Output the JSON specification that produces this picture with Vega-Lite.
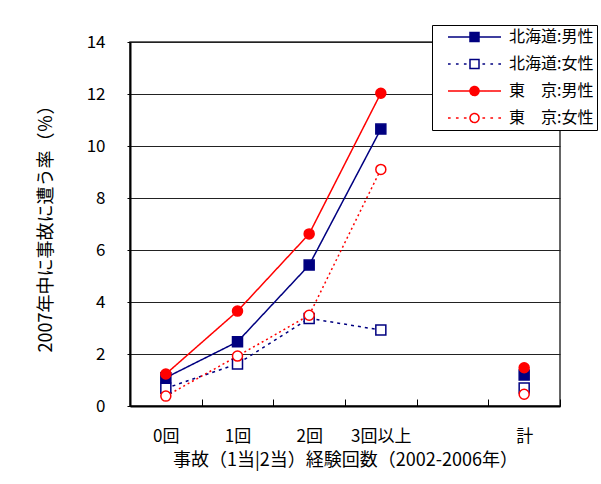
{
  "$schema": "https://vega.github.io/schema/vega-lite/v6.json",
  "width": 430,
  "height": 364,
  "autosize": {"type": "none"},
  "padding": {"left": 130, "top": 42, "right": 41, "bottom": 78},
  "background": "white",
  "config": {
    "font": "Noto Sans CJK JP",
    "view": {"stroke": "#333333", "strokeWidth": 1.5},
    "axis": {
      "labelFont": "Noto Sans CJK JP",
      "titleFont": "Noto Sans CJK JP",
      "labelColor": "black",
      "titleColor": "black",
      "labelFontSize": 17,
      "titleFontSize": 18,
      "titleFontWeight": "normal",
      "domainColor": "black",
      "domainWidth": 2,
      "tickColor": "black"
    },
    "legend": {
      "labelFont": "Noto Sans CJK JP",
      "labelFontSize": 16,
      "labelColor": "black"
    }
  },
  "data": {
    "values": [
      {"series": "北海道:男性", "cat": "0回", "rate": 1.09},
      {"series": "北海道:男性", "cat": "1回", "rate": 2.47},
      {"series": "北海道:男性", "cat": "2回", "rate": 5.42},
      {"series": "北海道:男性", "cat": "3回以上", "rate": 10.65},
      {"series": "北海道:男性", "cat": "計", "rate": 1.19},
      {"series": "北海道:女性", "cat": "0回", "rate": 0.68},
      {"series": "北海道:女性", "cat": "1回", "rate": 1.62},
      {"series": "北海道:女性", "cat": "2回", "rate": 3.37},
      {"series": "北海道:女性", "cat": "3回以上", "rate": 2.92},
      {"series": "北海道:女性", "cat": "計", "rate": 0.69},
      {"series": "東　京:男性", "cat": "0回", "rate": 1.23},
      {"series": "東　京:男性", "cat": "1回", "rate": 3.65},
      {"series": "東　京:男性", "cat": "2回", "rate": 6.62},
      {"series": "東　京:男性", "cat": "3回以上", "rate": 12.03},
      {"series": "東　京:男性", "cat": "計", "rate": 1.47},
      {"series": "東　京:女性", "cat": "0回", "rate": 0.38},
      {"series": "東　京:女性", "cat": "1回", "rate": 1.92},
      {"series": "東　京:女性", "cat": "2回", "rate": 3.49},
      {"series": "東　京:女性", "cat": "3回以上", "rate": 9.1},
      {"series": "東　京:女性", "cat": "計", "rate": 0.45}
    ]
  },
  "encoding": {
    "x": {
      "field": "cat",
      "type": "ordinal",
      "scale": {
        "type": "band",
        "domain": ["0回", "1回", "2回", "3回以上", "　", "計"],
        "paddingInner": 0,
        "paddingOuter": 0
      },
      "axis": {
        "title": "事故（1当|2当）経験回数（2002-2006年）",
        "labelAngle": 0,
        "tickBand": "extent",
        "tickSize": -7,
        "labelPadding": 29,
        "titlePadding": 7,
        "grid": false
      }
    },
    "y": {
      "field": "rate",
      "type": "quantitative",
      "scale": {"domain": [0, 14], "nice": false},
      "axis": {
        "title": "2007年中に事故に遭う率（％）",
        "values": [0, 2, 4, 6, 8, 10, 12, 14],
        "tickSize": 3,
        "labelPadding": 22,
        "titlePadding": 31,
        "grid": true,
        "gridColor": "#222222",
        "gridWidth": 1
      }
    }
  },
  "layer": [
    {
      "transform": [{"filter": "datum.cat !== '計'"}],
      "mark": {"type": "line", "strokeWidth": 1.5},
      "encoding": {
        "color": {
          "field": "series",
          "type": "nominal",
          "scale": {
            "domain": ["北海道:男性", "北海道:女性", "東　京:男性", "東　京:女性"],
            "range": ["#000080", "#000080", "#ff0000", "#ff0000"]
          },
          "legend": {
            "title": null,
            "orient": "none",
            "legendX": 302,
            "legendY": -17,
            "padding": 3,
            "strokeColor": "black",
            "fillColor": "white",
            "clipHeight": 18,
            "rowPadding": 9,
            "symbolSize": 2809,
            "symbolOffset": 12,
            "labelOffset": 7,
            "symbolStrokeWidth": 1.5,
            "encode": {
              "symbols": {
                "update": {
                  "shape": {"signal": "['M-1,0L1,0M-0.17,-0.17L0.17,-0.17L0.17,0.17L-0.17,0.17Z', 'M-1,0L-0.9,0M-0.7,0L-0.6,0M-0.4,0L-0.3,0M0.3,0L0.4,0M0.6,0L0.7,0M0.9,0L1,0M-0.17,-0.17L0.17,-0.17L0.17,0.17L-0.17,0.17Z', 'M-1,0L-0.17,0M0.17,0L1,0M0.17,0A0.17,0.17,0,1,1,-0.17,0A0.17,0.17,0,1,1,0.17,0Z', 'M-1,0L-0.9,0M-0.7,0L-0.6,0M-0.4,0L-0.3,0M0.3,0L0.4,0M0.6,0L0.7,0M0.9,0L1,0M0.17,0A0.17,0.17,0,1,1,-0.17,0A0.17,0.17,0,1,1,0.17,0Z'][datum.index]"},
                  "fill": {"signal": "['#000080', '#ffffff', '#ff0000', '#ffffff'][datum.index]"},
                  "strokeDash": {"value": [1, 0]},
                  "strokeWidth": {"value": 1.5},
                  "opacity": {"value": 1}
                }
              }
            }
          }
        },
        "strokeDash": {
          "field": "series",
          "type": "nominal",
          "scale": {
            "domain": ["北海道:女性", "北海道:男性", "東　京:女性", "東　京:男性"],
            "range": [[3, 4], [1, 0], [2, 3], [1, 0]]
          },
          "legend": null
        }
      }
    },
    {
      "mark": {"type": "point", "filled": true, "strokeWidth": 1.5, "size": 100, "opacity": 1},
      "encoding": {
        "shape": {
          "field": "series",
          "type": "nominal",
          "scale": {
            "domain": ["東　京:男性", "東　京:女性", "北海道:男性", "北海道:女性"],
            "range": ["circle", "circle", "square", "square"]
          },
          "legend": null
        },
        "fill": {
          "field": "series",
          "type": "nominal",
          "scale": {
            "domain": ["東　京:女性", "東　京:男性", "北海道:女性", "北海道:男性"],
            "range": ["#ffffff", "#ff0000", "#ffffff", "#000080"]
          },
          "legend": null
        },
        "stroke": {
          "field": "series",
          "type": "nominal",
          "scale": {
            "domain": ["東　京:男性", "北海道:男性", "東　京:女性", "北海道:女性"],
            "range": ["#ff0000", "#000080", "#ff0000", "#000080"]
          },
          "legend": null
        }
      }
    }
  ]
}
